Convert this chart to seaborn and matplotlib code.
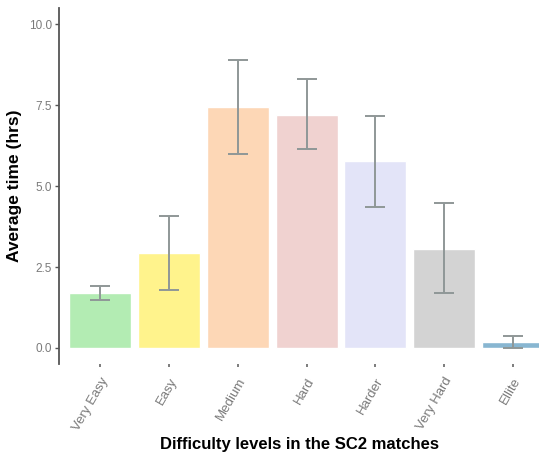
import matplotlib
matplotlib.use("Agg")
import matplotlib.pyplot as plt
import seaborn as sns
import pandas as pd

categories = ["Very Easy", "Easy", "Medium", "Hard", "Harder", "Very Hard", "Ellite"]
avg_time = [1.69, 2.93, 7.44, 7.21, 5.77, 3.07, 0.17]
err_low = [1.48, 1.80, 6.00, 6.14, 4.34, 1.70, 0.00]
err_high = [1.90, 4.09, 8.89, 8.30, 7.17, 4.48, 0.36]
colors = ["#b3ecb3", "#fff38c", "#fdd7b6", "#f0d2d0", "#e3e4f8", "#d3d3d3", "#88b6d1"]

sns.set_theme(style="white")
plt.rcParams["font.family"] = ["Liberation Sans", "DejaVu Sans"]

df = pd.DataFrame({"level": categories, "time": avg_time})

fig = plt.figure(figsize=(5.39, 4.54), dpi=100)
ax = fig.add_axes([0.1095, 0.198, 0.8905, 0.784])

sns.barplot(data=df, x="level", y="time", hue="level", palette=colors,
            order=categories, legend=False, width=0.9, saturation=1,
            errorbar=None, ax=ax)

yerr = [[t - lo for t, lo in zip(avg_time, err_low)],
        [hi - t for t, hi in zip(avg_time, err_high)]]
ax.errorbar(x=list(range(len(categories))), y=avg_time, yerr=yerr, fmt="none",
            ecolor="#8f9797", elinewidth=1.4, capsize=7, capthick=1.4)

ax.set_xlim(-0.6, 6.38)
ax.set_ylim(-0.5, 10.5)
ax.set_yticks([0, 2.5, 5, 7.5, 10])
ax.set_yticklabels(["0.0", "2.5", "5.0", "7.5", "10.0"])

for s in ["top", "right", "bottom"]:
    ax.spines[s].set_visible(False)
ax.spines["left"].set_color("#555555")
ax.spines["left"].set_linewidth(1.3)

ax.tick_params(axis="y", which="both", left=True, length=3, width=1, color="#555555",
               labelsize=8.5, labelcolor="#7a7a7a", pad=2)
ax.tick_params(axis="x", which="both", bottom=True, length=2, width=1.2, color="#666666",
               labelsize=9.5, labelcolor="#7a7a7a", pad=6)
for lbl in ax.get_xticklabels():
    lbl.set_rotation(60)
    lbl.set_ha("right")
    lbl.set_rotation_mode("anchor")

ax.set_xlabel("Difficulty levels in the SC2 matches", fontsize=12, fontweight="bold",
              color="black", labelpad=3)
ax.set_ylabel("Average time (hrs)", fontsize=12.5, fontweight="bold", color="black",
              labelpad=5)

fig.savefig("out.png", dpi=100)
